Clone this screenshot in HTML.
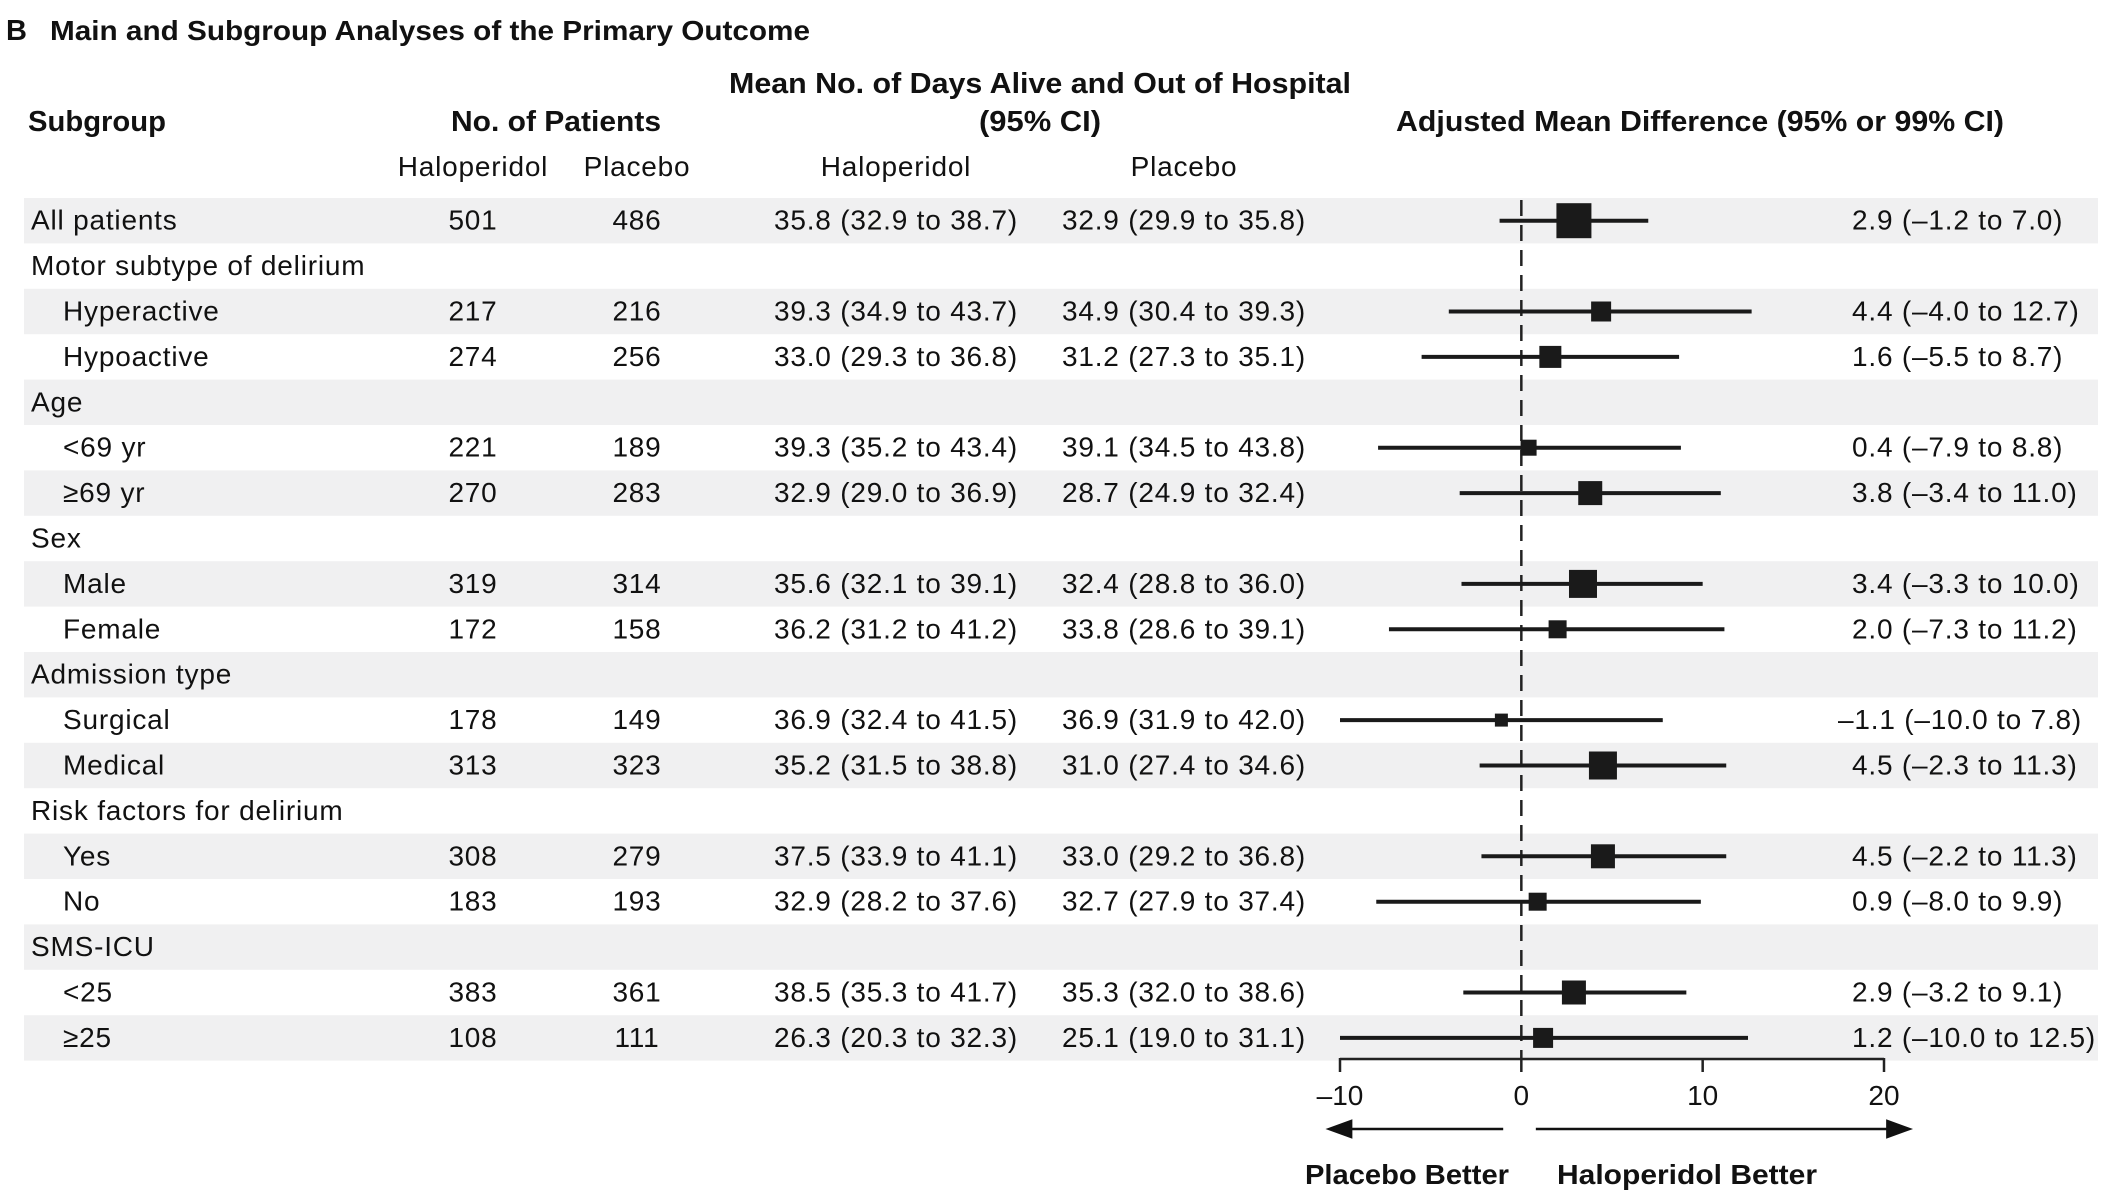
<!DOCTYPE html>
<html><head><meta charset="utf-8">
<style>
html,body{margin:0;padding:0;background:#fff;}
svg{display:block;font-family:"Liberation Sans",sans-serif;}
</style></head>
<body>
<svg id="chart" width="2104" height="1194" viewBox="0 0 2104 1194" xmlns="http://www.w3.org/2000/svg">
<g>
<text x="6" y="40" font-size="29" font-weight="bold" fill="#111">B</text>
<text x="50" y="40" font-size="28" font-weight="bold" fill="#111" textLength="760" lengthAdjust="spacingAndGlyphs">Main and Subgroup Analyses of the Primary Outcome</text>
</g>
<g font-weight="bold" font-size="29" fill="#111">
<text x="28" y="131" textLength="138" lengthAdjust="spacingAndGlyphs">Subgroup</text>
<text x="556" y="131" text-anchor="middle" textLength="210" lengthAdjust="spacingAndGlyphs">No. of Patients</text>
<text x="1040" y="93" text-anchor="middle" textLength="622" lengthAdjust="spacingAndGlyphs">Mean No. of Days Alive and Out of Hospital</text>
<text x="1040" y="131" text-anchor="middle" textLength="122" lengthAdjust="spacingAndGlyphs">(95% CI)</text>
<text x="1700" y="131" text-anchor="middle" textLength="608" lengthAdjust="spacingAndGlyphs">Adjusted Mean Difference (95% or 99% CI)</text>
</g>
<g font-size="28" letter-spacing="0.8" fill="#111" text-anchor="middle">
<text x="473" y="176">Haloperidol</text>
<text x="637" y="176">Placebo</text>
<text x="896" y="176">Haloperidol</text>
<text x="1184" y="176">Placebo</text>
</g>
<g id="rows"></g>
<g id="plot"></g>
</svg>
<script>
const labels=["All patients","Motor subtype of delirium","Hyperactive","Hypoactive","Age","<69 yr","\u226569 yr","Sex","Male","Female","Admission type","Surgical","Medical","Risk factors for delirium","Yes","No","SMS-ICU","<25","\u226525"];
const indent=[0,0,1,1,0,1,1,0,1,1,0,1,1,0,1,1,0,1,1];
const nHalo=["501","","217","274","","221","270","","319","172","","178","313","","308","183","","383","108"];
const nPlac=["486","","216","256","","189","283","","314","158","","149","323","","279","193","","361","111"];
const meanHalo=["35.8 (32.9 to 38.7)","","39.3 (34.9 to 43.7)","33.0 (29.3 to 36.8)","","39.3 (35.2 to 43.4)","32.9 (29.0 to 36.9)","","35.6 (32.1 to 39.1)","36.2 (31.2 to 41.2)","","36.9 (32.4 to 41.5)","35.2 (31.5 to 38.8)","","37.5 (33.9 to 41.1)","32.9 (28.2 to 37.6)","","38.5 (35.3 to 41.7)","26.3 (20.3 to 32.3)"];
const meanPlac=["32.9 (29.9 to 35.8)","","34.9 (30.4 to 39.3)","31.2 (27.3 to 35.1)","","39.1 (34.5 to 43.8)","28.7 (24.9 to 32.4)","","32.4 (28.8 to 36.0)","33.8 (28.6 to 39.1)","","36.9 (31.9 to 42.0)","31.0 (27.4 to 34.6)","","33.0 (29.2 to 36.8)","32.7 (27.9 to 37.4)","","35.3 (32.0 to 38.6)","25.1 (19.0 to 31.1)"];
const est=[2.9,null,4.4,1.6,null,0.4,3.8,null,3.4,2.0,null,-1.1,4.5,null,4.5,0.9,null,2.9,1.2];
const lo=[-1.2,null,-4.0,-5.5,null,-7.9,-3.4,null,-3.3,-7.3,null,-10.0,-2.3,null,-2.2,-8.0,null,-3.2,-10.0];
const hi=[7.0,null,12.7,8.7,null,8.8,11.0,null,10.0,11.2,null,7.8,11.3,null,11.3,9.9,null,9.1,12.5];
const weight=[35,null,20,22,null,16,24,null,28,18,null,13,28,null,24,18,null,24,20];
const ciText=["2.9 (\u20131.2 to 7.0)","","4.4 (\u20134.0 to 12.7)","1.6 (\u20135.5 to 8.7)","","0.4 (\u20137.9 to 8.8)","3.8 (\u20133.4 to 11.0)","","3.4 (\u20133.3 to 10.0)","2.0 (\u20137.3 to 11.2)","","\u20131.1 (\u201310.0 to 7.8)","4.5 (\u20132.3 to 11.3)","","4.5 (\u20132.2 to 11.3)","0.9 (\u20138.0 to 9.9)","","2.9 (\u20133.2 to 9.1)","1.2 (\u201310.0 to 12.5)"];
const ticks=[-10,0,10,20];
const tickLabels=["\u201310","0","10","20"];

const NS="http://www.w3.org/2000/svg";
const X0=-10,X1=20,PX0=1340,PX1=1884;
function xs(v){return PX0+(v-X0)/(X1-X0)*(PX1-PX0);}
const ROW0=198,RH=45.4;
function rowTop(i){return ROW0+i*RH;}
function mk(tag,attrs,parent){const e=document.createElementNS(NS,tag);for(const k in attrs)e.setAttribute(k,attrs[k]);parent.appendChild(e);return e;}
const rows=document.getElementById('rows'),plot=document.getElementById('plot');
labels.forEach((lab,i)=>{
  const t=rowTop(i),cy=t+RH/2+9;
  if(i%2===0){const r=mk('rect',{x:24,y:t,width:2074,height:RH,fill:'#f0f0f1'},rows);
    
    }
  const l=mk('text',{x:indent[i]?63:31,y:cy,'font-size':28,'letter-spacing':0.8,fill:'#111'},rows);l.textContent=lab;
  
  
  [[nHalo,473],[nPlac,637],[meanHalo,896],[meanPlac,1184]].forEach(([arr,x])=>{
    if(!arr[i])return;
    const e=mk('text',{x:x,y:cy,'font-size':28,'letter-spacing':0.8,fill:'#111','text-anchor':'middle'},rows);e.textContent=arr[i];
    
    
  });
  if(ciText[i]){const e=mk('text',{x:ciText[i].charAt(0)==='\u2013'?1838:1852,y:cy,'font-size':28,'letter-spacing':0.8,fill:'#111'},rows);e.textContent=ciText[i];
    
    }
});
const ref=mk('line',{x1:xs(0),x2:xs(0),y1:200,y2:1060,stroke:'#222','stroke-width':2.5,'stroke-dasharray':'16 9'},plot);


est.forEach((v,i)=>{
  if(v===null)return;
  const cy=rowTop(i)+RH/2;
  const ln=mk('line',{x1:xs(lo[i]),x2:xs(hi[i]),y1:cy,y2:cy,stroke:'#1a1a1a','stroke-width':4},plot);
  
  
  const s=weight[i];
  const sq=mk('rect',{x:xs(v)-s/2,y:cy-s/2,width:s,height:s,fill:'#1a1a1a'},plot);
  
  
});
const ax=mk('line',{x1:xs(X0),x2:xs(X1),y1:1059,y2:1059,stroke:'#222','stroke-width':2.5},plot);


ticks.forEach((t,k)=>{
  const tk=mk('line',{x1:xs(t),x2:xs(t),y1:1058,y2:1072,stroke:'#222','stroke-width':2.5},plot);
  
  
  const tl=mk('text',{x:xs(t),y:1105,'font-size':28,fill:'#111','text-anchor':'middle'},plot);tl.textContent=tickLabels[k];
  
  
});
const a1=mk('path',{d:`M${xs(-1)} 1129 H${xs(-9.5)} M${xs(-10.6)} 1129 l22 -8 v16 z`,stroke:'#111','stroke-width':2.5,fill:'#111'},plot);


const a2=mk('path',{d:`M${xs(0.8)} 1129 H${xs(20.4)} M${xs(21.4)} 1129 l-22 -8 v16 z`,stroke:'#111','stroke-width':2.5,fill:'#111'},plot);


const p1=mk('text',{x:1407,y:1184,'font-size':28,'font-weight':'bold',fill:'#111','text-anchor':'middle',textLength:204,lengthAdjust:'spacingAndGlyphs'},plot);p1.textContent='Placebo Better';


const p2=mk('text',{x:1687,y:1184,'font-size':28,'font-weight':'bold',fill:'#111','text-anchor':'middle',textLength:260,lengthAdjust:'spacingAndGlyphs'},plot);p2.textContent='Haloperidol Better';


</script>
</body></html>
